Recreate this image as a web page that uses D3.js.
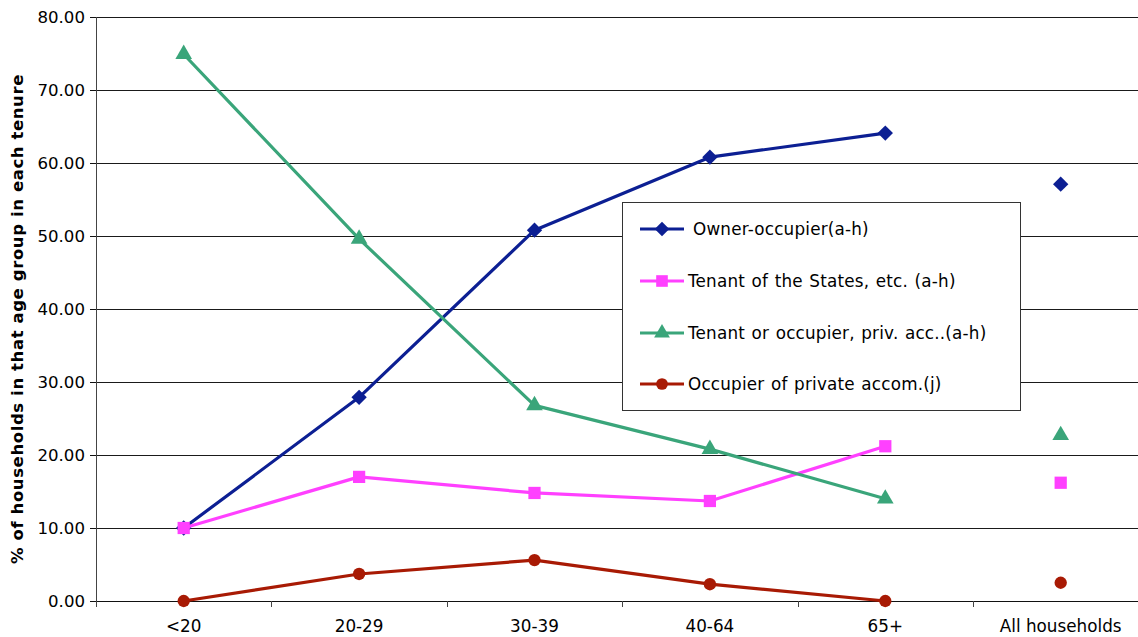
<!DOCTYPE html>
<html>
<head>
<meta charset="utf-8">
<script src="https://cdn.jsdelivr.net/npm/d3@7"></script>
<style>
  html, body { margin: 0; padding: 0; background: #fff; }
  svg { display: block; font-family: "DejaVu Sans", Verdana, sans-serif; }
</style>
</head>
<body>
<svg id="chart" width="1138" height="637"></svg>
<script>
// Age groups along the x axis
const categories = ["<20", "20-29", "30-39", "40-64", "65+", "All households"];
// Number of age groups joined by lines (the "All households" column stands alone)
const linkedCount = 5;

// % of households in each age group by tenure
const ownerOccupier   = [10.0, 27.9, 50.8, 60.8, 64.1, 57.1];
const tenantStates    = [10.0, 17.0, 14.8, 13.7, 21.2, 16.2];
const tenantPrivate   = [74.9, 49.6, 26.8, 20.8, 14.0, 22.7];
const occupierPrivate = [0.0, 3.7, 5.6, 2.3, 0.0, 2.5];

const yTicks = [0, 10, 20, 30, 40, 50, 60, 70, 80];

const seriesNames = [
  "Owner-occupier(a-h)",
  "Tenant of the States, etc. (a-h)",
  "Tenant or occupier, priv. acc..(a-h)",
  "Occupier of private accom.(j)"
];

const series = [
  { name: seriesNames[0], values: ownerOccupier,   color: "#0c1f93", shape: d3.symbolDiamond2, size: 150, legendDx: 5 },
  { name: seriesNames[1], values: tenantStates,    color: "#ff40ff", shape: d3.symbolSquare,   size: 150, legendDx: 0 },
  { name: seriesNames[2], values: tenantPrivate,   color: "#3aa57a", shape: d3.symbolTriangle, size: 120, legendDx: 0 },
  { name: seriesNames[3], values: occupierPrivate, color: "#a81a04", shape: d3.symbolCircle,   size: 120, legendDx: 0 }
];

const svg = d3.select("#chart");
const plotLeft = 96, plotTop = 17, plotBottom = 601, plotRight = 1138;
const step = 175.4;

const x = d3.scaleBand()
  .domain(categories)
  .range([plotLeft, plotLeft + step * categories.length])
  .padding(0);

const y = d3.scaleLinear()
  .domain([0, 80])
  .range([plotBottom, plotTop]);

const cx = c => x(c) + x.bandwidth() / 2;

// Horizontal gridlines
svg.append("g")
  .selectAll("line")
  .data(yTicks.filter(t => t > 0))
  .join("line")
  .attr("x1", plotLeft).attr("x2", plotRight)
  .attr("y1", d => Math.round(y(d)) + 0.5).attr("y2", d => Math.round(y(d)) + 0.5)
  .attr("stroke", "#1a1a1a")
  .attr("stroke-width", 1);

// Y axis
const yAxis = svg.append("g")
  .attr("transform", `translate(${plotLeft},0)`)
  .call(d3.axisLeft(y).tickValues(yTicks).tickFormat(d3.format(".2f")).tickSize(6).tickPadding(5));
yAxis.select(".domain").attr("stroke", "#444").attr("shape-rendering", "crispEdges");
yAxis.selectAll(".tick line").attr("stroke", "#111").attr("shape-rendering", "crispEdges");
yAxis.selectAll(".tick text")
  .attr("font-size", "16.6px")
  .attr("font-family", "DejaVu Sans, Verdana, sans-serif")
  .attr("fill", "#000");

// X axis with ticks between categories
const xAxis = svg.append("g")
  .attr("transform", `translate(0,${plotBottom})`);
xAxis.append("line")
  .attr("x1", plotLeft).attr("x2", plotRight)
  .attr("y1", 0.5).attr("y2", 0.5)
  .attr("stroke", "#111");
xAxis.selectAll("line.tick")
  .data(categories)
  .join("line")
  .attr("class", "tick")
  .attr("x1", d => Math.round(x(d)) + 0.5).attr("x2", d => Math.round(x(d)) + 0.5)
  .attr("y1", 0).attr("y2", 6)
  .attr("stroke", "#444");
xAxis.selectAll("text")
  .data(categories)
  .join("text")
  .attr("x", d => cx(d))
  .attr("y", 31)
  .attr("text-anchor", "middle")
  .attr("font-size", "16.8px")
  .attr("fill", "#000")
  .text(d => d);

// Y axis title
svg.append("text")
  .attr("transform", "translate(23,319) rotate(-90)")
  .attr("text-anchor", "middle")
  .attr("font-size", "16.5px")
  .attr("font-weight", "bold")
  .attr("letter-spacing", "0.6px")
  .attr("fill", "#000")
  .text("% of households in that age group in each tenure");

// Series lines and markers
const line = d3.line()
  .x((d, i) => cx(categories[i]))
  .y(d => y(d));

series.forEach(s => {
  svg.append("path")
    .datum(s.values.slice(0, linkedCount))
    .attr("d", line)
    .attr("fill", "none")
    .attr("stroke", s.color)
    .attr("stroke-width", 3.2)
    .attr("stroke-linejoin", "round");
  svg.append("g")
    .selectAll("path")
    .data(s.values)
    .join("path")
    .attr("transform", (d, i) => `translate(${cx(categories[i])},${y(d)})`)
    .attr("d", d3.symbol().type(s.shape).size(s.size))
    .attr("fill", s.color);
});

// Legend
const legend = svg.append("g").attr("transform", "translate(622,202)");
legend.append("rect")
  .attr("x", 0.5).attr("y", 0.5)
  .attr("width", 398).attr("height", 208)
  .attr("fill", "#fff")
  .attr("stroke", "#333")
  .attr("stroke-width", 1);
const rowY = [27, 79, 131, 182];
series.forEach((s, i) => {
  const g = legend.append("g").attr("transform", `translate(0,${rowY[i]})`);
  g.append("line")
    .attr("x1", 18).attr("x2", 62)
    .attr("y1", 0).attr("y2", 0)
    .attr("stroke", s.color)
    .attr("stroke-width", 3);
  g.append("path")
    .attr("transform", "translate(40,0)")
    .attr("d", d3.symbol().type(s.shape).size(s.size * 0.9))
    .attr("fill", s.color);
  g.append("text")
    .attr("x", 66 + s.legendDx)
    .attr("y", 0)
    .attr("dy", "0.35em")
    .attr("font-size", "16.8px")
    .attr("word-spacing", "1px")
    .attr("letter-spacing", "0.2px")
    .attr("fill", "#000")
    .text(s.name);
});
</script>
</body>
</html>
